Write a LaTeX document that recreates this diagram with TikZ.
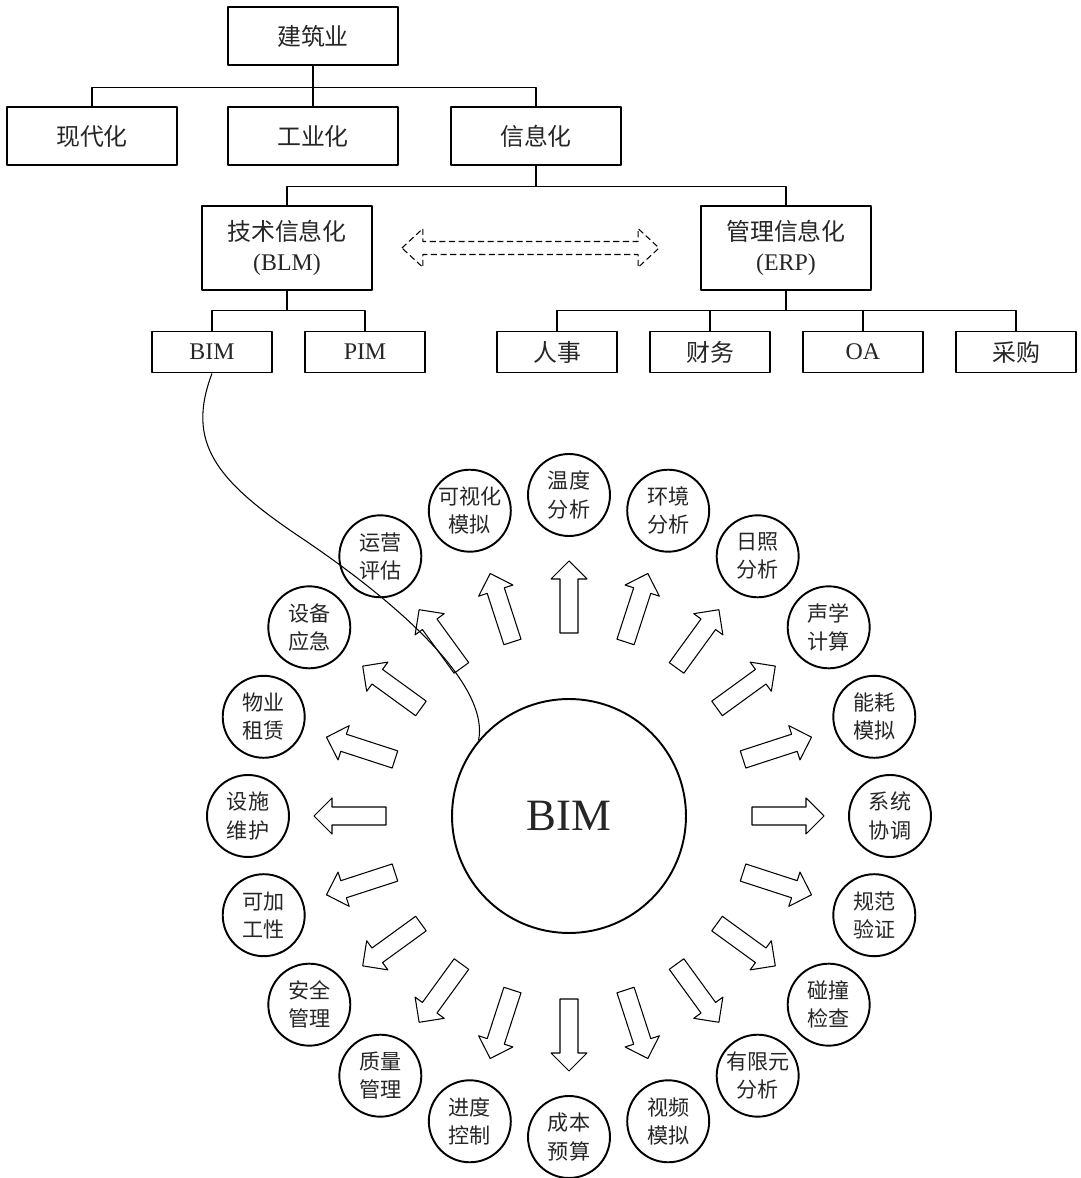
\documentclass[tikz,border=0pt]{standalone}
\usepackage{fontspec}
\setmainfont{Liberation Serif}
\newfontfamily\cjk{Noto Sans CJK SC}
\usetikzlibrary{calc}

\begin{document}
\begin{tikzpicture}[x=0.02cm,y=0.02cm,line join=round,
		hop/.style={draw,line width=1.1pt,minimum width=3.4cm,minimum height=1.16cm,inner sep=0pt,align=center,text=black!85,font=\fontsize{13.6}{17}\selectfont},
		hopnho/.style={hop,minimum width=2.4cm,minimum height=0.82cm},
		tron/.style={draw,circle,line width=1.1pt,minimum size=1.64cm,inner sep=0pt,align=center,text=black!85,font=\cjk\fontsize{12}{16}\selectfont},
		noi/.style={line width=0.6pt}]
	\useasboundingbox (0,0) rectangle (1081,1178);
	% cay phan cap
	\node[hop] (jzy) at (313,1142) {\cjk 建筑业};
	\node[hop] (xdh) at (92,1042) {\cjk 现代化};
	\node[hop] (gyh) at (313,1042) {\cjk 工业化};
	\node[hop] (xxh) at (536,1042) {\cjk 信息化};
	\node[hop,minimum height=1.68cm] (jsxx) at (287,930) {{\cjk 技术信息化}\\(BLM)};
	\node[hop,minimum height=1.68cm] (glxx) at (786,930) {{\cjk 管理信息化}\\(ERP)};
	\node[hopnho] (bim) at (212,826) {BIM};
	\node[hopnho] (pim) at (365,826) {PIM};
	\node[hopnho] (rs) at (557,826) {\cjk 人事};
	\node[hopnho] (cw) at (710,826) {\cjk 财务};
	\node[hopnho] (oa) at (863,826) {OA};
	\node[hopnho] (cg) at (1016,826) {\cjk 采购};
	\foreach \c in {xdh,gyh,xxh} \draw[noi] (jzy.south) -- ++(0,-22) -| (\c.north);
	\foreach \c in {jsxx,glxx} \draw[noi] (xxh.south) -- ++(0,-21) -| (\c.north);
	\foreach \c in {bim,pim} \draw[noi] (jsxx.south) -- ++(0,-20) -| (\c.north);
	\foreach \c in {rs,cw,oa,cg} \draw[noi] (glxx.south) -- ++(0,-20) -| (\c.north);
	\draw[noi,dash pattern=on 3.5pt off 2pt] ($(jsxx.east)+(29,0)$) -- ++(21,19.5) -- ++(0,-13)
		-- ($(glxx.west)+(-62,6.5)$) -- ++(0,13) -- ($(glxx.west)+(-41,0)$) -- ++(-21,-19.5) -- ++(0,13)
		-- ($(jsxx.east)+(50,-6.5)$) -- ++(0,-13) -- cycle;
	% vong BIM
	\node[circle,draw,line width=1.1pt,minimum size=4.68cm,inner sep=0pt,text=black!85,font=\fontsize{25.5}{30}\selectfont] (hub) at (569,362) {BIM};
	\foreach \lab [count=\i from 0] in {{系统\\协调},{能耗\\模拟},{声学\\计算},{日照\\分析},{环境\\分析},{温度\\分析},{可视化\\模拟},{运营\\评估},{设备\\应急},{物业\\租赁},{设施\\维护},{可加\\工性},{安全\\管理},{质量\\管理},{进度\\控制},{成本\\预算},{视频\\模拟},{有限元\\分析},{碰撞\\检查},{规范\\验证}}
	{
		\node[tron] (v\i) at ($(hub)+(18*\i:321)$) {\lab};
		\draw[noi,fill=white,shift={(hub)},rotate=18*\i] (183,-9) -- (237,-9) -- (237,-18) -- (255,0) -- (237,18) -- (237,9) -- (183,9) -- cycle;
	}
	\draw[noi] (bim.south) .. controls (186,736) and (215,698) .. (300,641) .. controls (385,584) and (490,498) .. (hub.140);
\end{tikzpicture}
\end{document}
